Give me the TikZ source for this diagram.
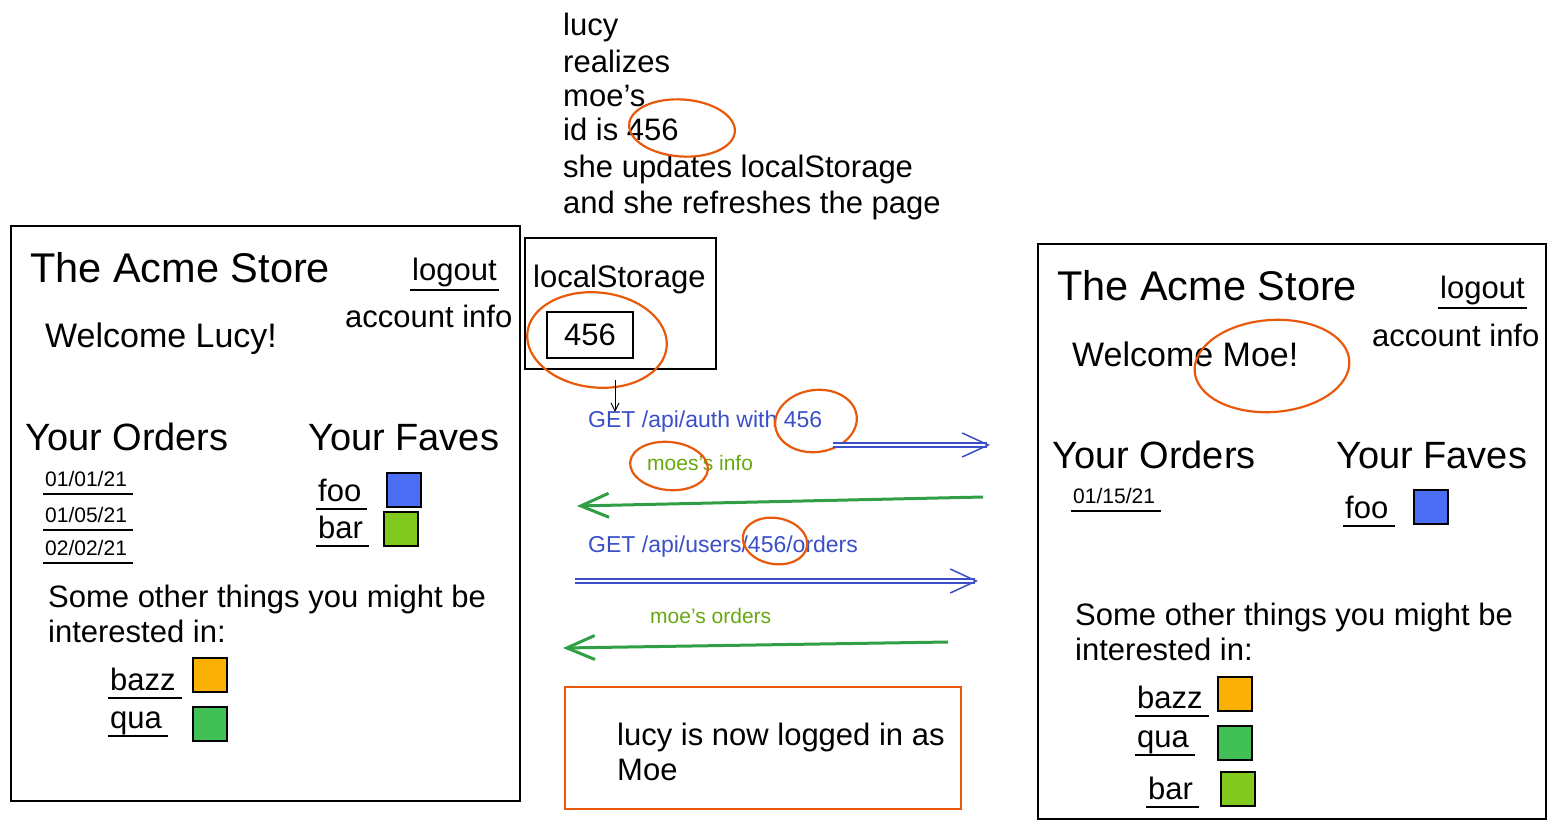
\documentclass[tikz,border=0pt]{standalone}
\usepackage{fontspec}
\setmainfont{Liberation Sans}
\usetikzlibrary{shapes.geometric}
\usetikzlibrary{positioning}
\usetikzlibrary{arrows.meta}
\usetikzlibrary{calc}
\definecolor{redc}{HTML}{E8590C}
\definecolor{bluec}{HTML}{3B4FC8}
\definecolor{greentxt}{HTML}{66A80F}
\definecolor{greenc}{HTML}{2F9E44}
\definecolor{bluesq}{HTML}{4C6EF5}
\definecolor{limesq}{HTML}{82C91E}
\definecolor{greensq}{HTML}{40C057}
\definecolor{orangesq}{HTML}{FAB005}
\tikzset{
        txt/.style={anchor=base west, inner sep=0pt, font=\fontsize{31}{35}\selectfont},
        titletxt/.style={txt, font=\fontsize{41.5}{45}\selectfont},
        headtxt/.style={txt, font=\fontsize{38}{41}\selectfont},
        welcometxt/.style={txt, font=\fontsize{34}{38}\selectfont},
        datetxt/.style={txt, font=\fontsize{21}{24}\selectfont},
        itemtxt/.style={txt, font=\fontsize{31}{34}\selectfont},
        reqtxt/.style={txt, text=bluec, font=\fontsize{23}{26}\selectfont},
        resptxt/.style={txt, text=greentxt, font=\fontsize{21}{24}\selectfont},
        panel/.style={draw, line width=2.3pt, anchor=north west, inner sep=0pt},
        swatch/.style={draw, line width=2.2pt, minimum size=34pt, inner sep=0pt},
        redring/.style={ellipse, draw=redc, line width=2.2pt, inner sep=0pt},
        uline/.style={line width=1.7pt},
        reqarrow/.style={draw=bluec, line width=1.5pt, double=white, double distance=2.6pt, -{Straight Barb[length=26pt, width=24pt]}},
        resparrow/.style={draw=greenc, line width=3pt, -{Straight Barb[length=28pt, width=24pt]}}
}
\begin{document}
\begin{tikzpicture}[x=1pt, y=-1pt]
        \useasboundingbox (0,0) rectangle (1554,827);
        \node[txt] (t1) at (563,35) {lucy};
        \node[txt] (t2) at (563,72) {realizes};
        \node[txt] (t3) at (563,106) {moe's};
        \node[txt] (t4) at (563,140) {id is 456};
        \node[txt] (t5) at (563,177) {she updates localStorage};
        \node[txt] (t6) at (563,213) {and she refreshes the page};
        \node[redring, minimum width=106pt, minimum height=57pt, rotate=-4] (ringid) at (682,128) {};

        \node[panel, minimum width=509pt, minimum height=575pt] (lbox) at (10,225) {};
        \node[titletxt] (ltitle) at (30,282) {The Acme Store};
        \node[txt] (llogout) at (412,280) {logout};
        \node[txt] (lacct) at (345,327) {account info};
        \node[welcometxt] (lwelcome) at (45,347) {Welcome Lucy!};
        \node[headtxt] (lorders) at (25,450) {Your Orders};
        \node[headtxt] (lfaves) at (308,450) {Your Faves};
        \node[datetxt] (ld1) at (45,486) {01/01/21};
        \node[datetxt] (ld2) at (45,522) {01/05/21};
        \node[datetxt] (ld3) at (45,555) {02/02/21};
        \node[itemtxt] (lfoo) at (318,501) {foo};
        \node[itemtxt] (lbar) at (318,538) {bar};
        \node[swatch, fill=bluesq] (lsqfoo) at (404,490) {};
        \node[swatch, fill=limesq] (lsqbar) at (401,529) {};
        \node[txt] (lsome) at (48,607) {Some other things you might be};
        \node[txt] (linter) at (48,642) {interested in:};
        \node[txt] (lbazz) at (110,690) {bazz};
        \node[txt] (lqua) at (110,728) {qua};
        \node[swatch, fill=orangesq] (lsqbazz) at (210,675) {};
        \node[swatch, fill=greensq] (lsqqua) at (210,724) {};

        \node[panel, minimum width=191pt, minimum height=131pt] (store) at (524,237) {};
        \node[txt] (storetitle) at (533,287) {localStorage};
        \node[draw, line width=2.2pt, minimum width=86pt, minimum height=46pt, font=\fontsize{31}{35}\selectfont] (storeid) at (590,335) {456};
        \node[redring, minimum width=140pt, minimum height=95pt, rotate=-6] (ringstore) at (597,340) {};
        \coordinate (lsdown) at (615,412);
        \draw[line width=1pt, -{Straight Barb[length=8pt, width=8pt]}, shorten <=10pt] (store.south -| lsdown) -- (lsdown);

        \node[reqtxt] (getauth) at (588,427) {GET /api/auth with 456};
        \node[redring, minimum width=82pt, minimum height=62pt, rotate=8] (ringauth) at (816,421) {};
        \coordinate (authfrom) at (833,445);
        \coordinate (authto) at (990,445);
        \draw[reqarrow] (authfrom) -- (authto);
        \node[resptxt] (infotxt) at (647,470) {moes's info};
        \node[redring, minimum width=78pt, minimum height=48pt, rotate=-6] (ringinfo) at (669,466) {};
        \coordinate (infofrom) at (983,497);
        \coordinate (infoto) at (577,506);
        \draw[resparrow] (infofrom) -- (infoto);
        \node[reqtxt] (getorders) at (588,552) {GET /api/users/456/orders};
        \node[redring, minimum width=65pt, minimum height=46pt, rotate=-10] (ringorders) at (775,541) {};
        \coordinate (ordersfrom) at (575,581);
        \coordinate (ordersto) at (978,581);
        \draw[reqarrow] (ordersfrom) -- (ordersto);
        \node[resptxt] (orderstxt) at (650,623) {moe's orders};
        \coordinate (listfrom) at (948,642);
        \coordinate (listto) at (563,648);
        \draw[resparrow] (listfrom) -- (listto);

        \node[panel, draw=redc, minimum width=396pt, minimum height=122pt] (note) at (564,686) {};
        \node[txt] (note1) at (617,745) {lucy is now logged in as};
        \node[txt] (note2) at (617,780) {Moe};

        \node[panel, minimum width=508pt, minimum height=575pt] (rbox) at (1037,243) {};
        \node[titletxt] (rtitle) at (1057,300) {The Acme Store};
        \node[txt] (rlogout) at (1440,298) {logout};
        \node[txt] (racct) at (1372,346) {account info};
        \node[welcometxt] (rwelcome) at (1072,366) {Welcome Moe!};
        \node[redring, minimum width=155pt, minimum height=92pt, rotate=4] (ringmoe) at (1272,366) {};
        \node[headtxt] (rorders) at (1052,468) {Your Orders};
        \node[headtxt] (rfaves) at (1336,468) {Your Faves};
        \node[datetxt] (rd1) at (1073,503) {01/15/21};
        \node[itemtxt] (rfoo) at (1345,518) {foo};
        \node[swatch, fill=bluesq] (rsqfoo) at (1431,507) {};
        \node[txt] (rsome) at (1075,625) {Some other things you might be};
        \node[txt] (rinter) at (1075,660) {interested in:};
        \node[txt] (rbazz) at (1137,708) {bazz};
        \node[txt] (rqua) at (1137,747) {qua};
        \node[txt] (rbar) at (1148,799) {bar};
        \node[swatch, fill=orangesq] (rsqbazz) at (1235,694) {};
        \node[swatch, fill=greensq] (rsqqua) at (1235,743) {};
        \node[swatch, fill=limesq] (rsqbar) at (1238,789) {};

        \foreach \n in {llogout, rlogout}
                \draw[uline] ($(\n.base west)+(-2,10)$) -- ($(\n.base east)+(2,10)$);
        \foreach \n in {ld1, ld2, ld3, lfoo, lbar, lbazz, lqua, rd1, rfoo, rbazz, rqua, rbar}
                \draw[uline] ($(\n.base west)+(-2,8)$) -- ($(\n.base east)+(6,8)$);
\end{tikzpicture}
\end{document}
